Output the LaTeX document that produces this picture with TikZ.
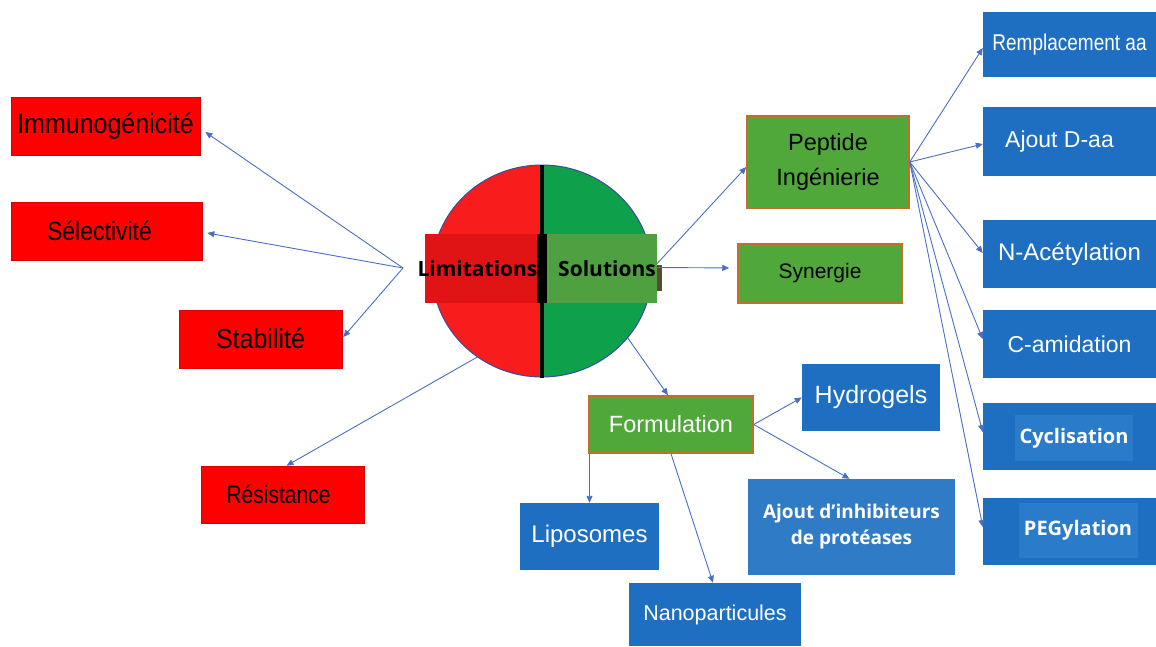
\documentclass[tikz,border=0pt]{standalone}
\usepackage{graphicx}
\usepackage{fontspec}
\setmainfont{Liberation Sans}
\newfontfamily\opensans{Open Sans}
\usetikzlibrary{arrows.meta,shapes.geometric}
\definecolor{boxred}{HTML}{FF0000}
\definecolor{limred}{HTML}{E01414}
\definecolor{hubred}{HTML}{F81C1C}
\definecolor{hubgreen}{HTML}{0FA04C}
\definecolor{solgreen}{HTML}{4FA040}
\definecolor{boxgreen}{HTML}{50A83A}
\definecolor{greenline}{HTML}{C0702C}
\definecolor{boxblue}{HTML}{1E6FC1}
\definecolor{innerblue}{HTML}{2B7BCB}
\definecolor{linkblue}{HTML}{4A6FC2}
\definecolor{hubline}{HTML}{3A4C9C}
\newcommand{\sz}[2]{\fontsize{#1}{#2}\selectfont}
\newcommand{\tall}[2]{\scalebox{1}[#1]{#2}}

\begin{document}
\begin{tikzpicture}[x=1pt,y=-1pt,inner sep=0,
    redbox/.style={fill=boxred,draw=boxred!85!black,line width=0.6},
    greenbox/.style={fill=boxgreen,draw=greenline,line width=1.5},
    bluebox/.style={fill=boxblue,text=white},
    link/.style={draw=linkblue,line width=0.9,-{Triangle[length=7,width=6]}}]
    \useasboundingbox (0,0) rectangle (1156,646);
    % limitations
    \node[redbox,minimum width=189,minimum height=58,font=\sz{25}{30}] (imm) at (105.5,126) {\tall{1.12}{Immunogénicité}};
    \node[redbox,minimum width=191,minimum height=58,font=\sz{23}{28}] (sel) at (106.5,231) {\hspace*{-14pt}\tall{1.15}{Sélectivité}};
    \node[redbox,minimum width=163,minimum height=58,font=\sz{25}{30}] (sta) at (260.5,339) {\tall{1.1}{Stabilité}};
    \node[redbox,minimum width=163,minimum height=57,font=\sz{21}{26}] (res) at (282.5,494.5) {\hspace*{-8pt}\tall{1.2}{Résistance}};
    % central disc
    \node[ellipse,minimum width=220,minimum height=212,draw=hubline,line width=1,
        path picture={\fill[hubred] (path picture bounding box.south west) rectangle (path picture bounding box.north);
                      \fill[hubgreen] (path picture bounding box.south) rectangle (path picture bounding box.north east);}] (hub) at (542,271) {};
    \draw[line width=4] (hub.north) -- (hub.south);
    \node[fill=limred,minimum width=113,minimum height=69,font=\opensans\bfseries\sz{21}{26}] (lim) at (481.5,268.5) {\hspace*{-8pt}Limitations};
    \node[fill=solgreen,minimum width=110,minimum height=69,font=\opensans\bfseries\sz{21}{26}] (sol) at (602,268.5) {\hspace*{10pt}Solutions};
    \node[fill=black,minimum width=10,minimum height=69] (bar) at (542,268.5) {};
    \fill[black!55!olive] (657,265) rectangle (662,291);
    % solutions
    \node[greenbox,minimum width=162,minimum height=92,font=\sz{23.5}{35},align=center] (pep) at (828,162) {Peptide\\Ingénierie};
    \node[greenbox,minimum width=164,minimum height=59,font=\sz{21}{26}] (syn) at (820,273.5) {Synergie};
    \node[greenbox,minimum width=164,minimum height=57,font=\sz{23.5}{28},text=white] (form) at (671,424.5) {Formulation};
    % peptide engineering
    \node[bluebox,minimum width=173,minimum height=65,font=\sz{19}{23}] (rem) at (1069.5,44.5) {\tall{1.2}{Remplacement aa}};
    \node[bluebox,minimum width=173,minimum height=69,font=\sz{23}{28}] (ajd) at (1069.5,141.5) {\hspace*{-20pt}Ajout D-aa};
    \node[bluebox,minimum width=173,minimum height=68,font=\sz{24}{29}] (nac) at (1069.5,254) {N-Acétylation};
    \node[bluebox,minimum width=173,minimum height=68,font=\sz{23}{28}] (cam) at (1069.5,344) {C-amidation};
    \node[bluebox,minimum width=173,minimum height=67] (cyc) at (1069.5,436.5) {};
    \node[fill=innerblue,text=white,minimum width=118,minimum height=46,font=\opensans\bfseries\sz{20}{24}] (cyctxt) at (1074,438) {Cyclisation};
    \node[bluebox,minimum width=173,minimum height=67] (peg) at (1069.5,531.5) {};
    \node[fill=innerblue,text=white,minimum width=119,minimum height=55,font=\opensans\bfseries\sz{20}{24}] (pegtxt) at (1078,530) {PEGylation};
    % formulation
    \node[bluebox,minimum width=138,minimum height=67,font=\sz{25}{30}] (hyd) at (871,397.5) {Hydrogels};
    \node[bluebox,fill=boxblue!92!white,minimum width=207,minimum height=96,align=center,font=\opensans\bfseries\sz{19}{26}] (inh) at (851.5,527) {Ajout d’inhibiteurs\\de protéases};
    \node[bluebox,minimum width=139,minimum height=67,font=\sz{24}{29}] (lip) at (589.5,536.5) {Liposomes};
    \node[bluebox,minimum width=172,minimum height=63,font=\sz{21.5}{26}] (nano) at (715,614.5) {Nanoparticules};
    % arrows
    \coordinate (limsrc) at (403,268);
    \draw[link] (limsrc) -- ([xshift=5,yshift=-6]imm.east);
    \draw[link] (limsrc) -- ([xshift=5,yshift=-2]sel.east);
    \draw[link] (limsrc) -- ([xshift=1,yshift=2]sta.east);
    \draw[link] (hub.233) -- ([xshift=4]res.north);
    \draw[link] ([yshift=5]sol.east) -- ([yshift=-5]pep.west);
    \draw[link,shorten >=8] ([yshift=1]sol.east) -- ([yshift=5.5]syn.west);
    \draw[link] (hub.322) -- ([xshift=-3]form.north);
    \draw[link] (pep.east) -- ([yshift=-3.5]rem.west);
    \draw[link] (pep.east) -- ([yshift=-2.5]ajd.west);
    \draw[link] (pep.east) -- ([yshift=1]nac.west);
    \draw[link] (pep.east) -- ([yshift=5]cam.west);
    \draw[link] (pep.east) -- ([yshift=4.5]cyc.west);
    \draw[link] (pep.east) -- ([yshift=4.5]peg.west);
    \draw[link] (form.east) -- (hyd.west);
    \draw[link] (form.east) -- ([xshift=-2]inh.north);
    \draw[link] (lip.north |- form.south) -- (lip.north);
    \draw[link] (form.south) -- ([xshift=-2]nano.north);
\end{tikzpicture}
\end{document}
